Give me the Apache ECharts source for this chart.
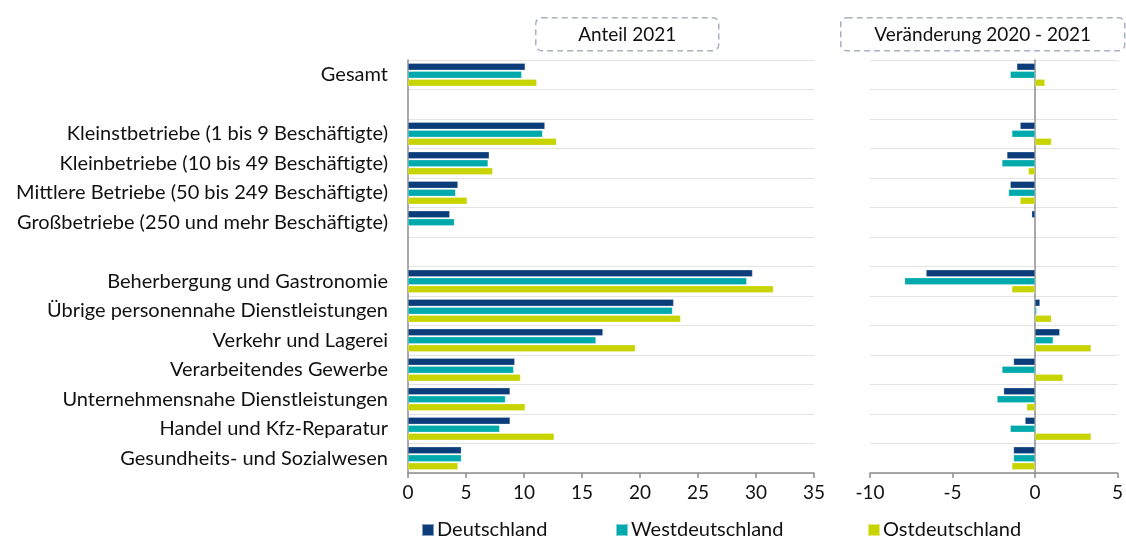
<!DOCTYPE html>
<html>
<head>
<meta charset="utf-8">
<script src="https://cdn.jsdelivr.net/npm/echarts@6/dist/echarts.min.js"></script>
<style>html,body{margin:0;padding:0;background:#fff}#c{width:1126px;height:536px}</style>
</head>
<body>
<div id="c"></div>
<script>
const categories = ['Gesamt', ' ', 'Kleinstbetriebe (1 bis 9 Beschäftigte)', 'Kleinbetriebe (10 bis 49 Beschäftigte)', 'Mittlere Betriebe (50 bis 249 Beschäftigte)', 'Großbetriebe (250 und mehr Beschäftigte)', '  ', 'Beherbergung und Gastronomie', 'Übrige personennahe Dienstleistungen', 'Verkehr und Lagerei', 'Verarbeitendes Gewerbe', 'Unternehmensnahe Dienstleistungen', 'Handel und Kfz-Reparatur', 'Gesundheits- und Sozialwesen'];
const seriesNames = ['Deutschland', 'Westdeutschland', 'Ostdeutschland'];
const anteilDeutschland = [10.1, null, 11.8, 7.0, 4.3, 3.6, null, 29.7, 22.9, 16.8, 9.2, 8.8, 8.8, 4.6];
const anteilWest = [9.8, null, 11.6, 6.9, 4.1, 4.0, null, 29.2, 22.8, 16.2, 9.1, 8.4, 7.9, 4.6];
const anteilOst = [11.1, null, 12.8, 7.3, 5.1, null, null, 31.5, 23.5, 19.6, 9.7, 10.1, 12.6, 4.3];
const changeDeutschland = [-1.1, null, -0.9, -1.7, -1.5, -0.2, null, -6.6, 0.3, 1.5, -1.3, -1.9, -0.6, -1.3];
const changeWest = [-1.5, null, -1.4, -2.0, -1.6, null, null, -7.9, 0.1, 1.1, -2.0, -2.3, -1.5, -1.3];
const changeOst = [0.6, null, 1.0, -0.4, -0.9, null, null, -1.4, 1.0, 3.4, 1.7, -0.5, 3.4, -1.4];
const titles = ['Anteil 2021', 'Veränderung 2020 - 2021'];

const colors = ['#0b3d7a', '#00a9ab', '#c8d400'];
const FONT = 'Lato';
const TEXT = '#111111';
const chart = echarts.init(document.getElementById('c'));

function bar(name, data, idx, color) {
  return {
    name: name, type: 'bar', data: data,
    xAxisIndex: idx, yAxisIndex: idx,
    barWidth: 7, barGap: '14%',
    itemStyle: { color: color, borderColor: 'rgba(255,255,255,0.5)', borderWidth: 0.5 },
    emphasis: { disabled: true },
    animation: false
  };
}

const axisLineStyle = { color: '#8c8c8c', width: 1.5 };
function legend(name, left) {
  return {
    data: [name], left: left, top: 515, icon: 'rect', itemWidth: 12, itemHeight: 12,
    itemGap: 0, textStyle: { fontFamily: FONT, fontSize: 20, color: TEXT, padding: [0, 0, 0, -2] }
  };
}

const option = {
  animation: false,
  textStyle: { fontFamily: FONT },
  color: colors,
  grid: [
    { left: 408, right: 312, top: 60, bottom: 63 },
    { left: 870, right: 7, top: 60, bottom: 63 }
  ],
  legend: [legend(seriesNames[0], 416), legend(seriesNames[1], 610), legend(seriesNames[2], 862)],
  xAxis: [
    { type: 'value', gridIndex: 0, min: 0, max: 35, interval: 5,
      axisLine: { show: true, lineStyle: axisLineStyle },
      axisTick: { show: true, length: 5, lineStyle: axisLineStyle },
      splitLine: { show: false },
      axisLabel: { fontFamily: FONT, fontSize: 19, color: TEXT, margin: 10 } },
    { type: 'value', gridIndex: 1, min: -10, max: 5, interval: 5,
      axisLine: { show: true, onZero: false, lineStyle: axisLineStyle },
      axisTick: { show: true, length: 5, lineStyle: axisLineStyle },
      splitLine: { show: false },
      axisLabel: { fontFamily: FONT, fontSize: 19, color: TEXT, margin: 10 } }
  ],
  yAxis: [
    { type: 'category', gridIndex: 0, data: categories, inverse: true,
      axisLine: { show: true, lineStyle: axisLineStyle },
      axisTick: { show: false },
      splitLine: { show: true, lineStyle: { color: '#e3e3e3', width: 1 } },
      axisLabel: { fontFamily: FONT, fontSize: 20, color: TEXT, margin: 20 } },
    { type: 'category', gridIndex: 1, data: categories, inverse: true,
      axisLine: { show: true, onZero: true, lineStyle: axisLineStyle },
      axisTick: { show: false },
      splitLine: { show: true, lineStyle: { color: '#e3e3e3', width: 1 } },
      axisLabel: { show: false } }
  ],
  series: [
    bar(seriesNames[0], anteilDeutschland, 0, colors[0]),
    bar(seriesNames[1], anteilWest, 0, colors[1]),
    bar(seriesNames[2], anteilOst, 0, colors[2]),
    bar(seriesNames[0], changeDeutschland, 1, colors[0]),
    bar(seriesNames[1], changeWest, 1, colors[1]),
    bar(seriesNames[2], changeOst, 1, colors[2])
  ],
  graphic: [
    { type: 'group', left: 535, top: 17, children: [
      { type: 'rect', shape: { x: 0, y: 0, width: 183, height: 33, r: 6 },
        style: { fill: '#fff', stroke: '#aab1be', lineWidth: 1.5, lineDash: [6, 4] } },
      { type: 'text', x: 91.5, y: 17,
        style: { text: titles[0], align: 'center', verticalAlign: 'middle', textAlign: 'center', textVerticalAlign: 'middle', fontFamily: FONT, fontSize: 19, fill: TEXT } }
    ]},
    { type: 'group', left: 840, top: 17, children: [
      { type: 'rect', shape: { x: 0, y: 0, width: 284, height: 33, r: 6 },
        style: { fill: '#fff', stroke: '#aab1be', lineWidth: 1.5, lineDash: [6, 4] } },
      { type: 'text', x: 142, y: 17,
        style: { text: titles[1], align: 'center', verticalAlign: 'middle', textAlign: 'center', textVerticalAlign: 'middle', fontFamily: FONT, fontSize: 19, fill: TEXT } }
    ]}
  ]
};
chart.setOption(option);
</script>
</body>
</html>
